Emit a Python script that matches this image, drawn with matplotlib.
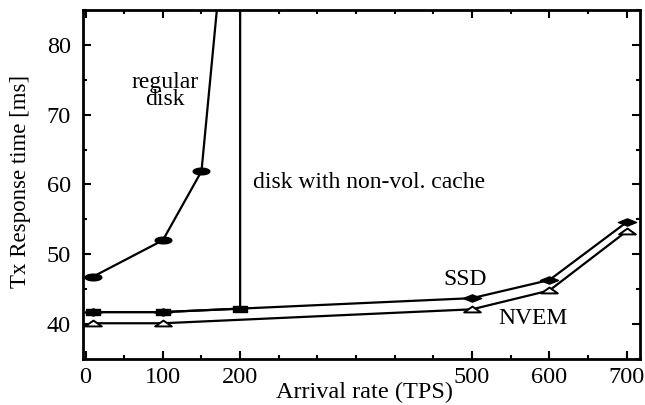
import numpy as np
import matplotlib.pyplot as plt
from matplotlib.path import Path
from matplotlib.ticker import MultipleLocator

plt.rcParams["font.family"] = ["Liberation Serif", "DejaVu Serif"]

# data
disk_x = [10, 100, 150, 175]
disk_y = [46.8, 52.0, 61.9, 91.0]

cache_x = [10, 100, 200, 200]
cache_y = [41.7, 41.7, 42.2, 100.0]

ssd_x = [10, 100, 500, 600, 700]
ssd_y = [41.7, 41.7, 43.7, 46.3, 54.6]

nvem_x = [10, 100, 500, 600, 700]
nvem_y = [40.1, 40.1, 42.1, 44.8, 53.3]

x_ticks = [0, 100, 200, 500, 600, 700]
y_ticks = [40, 50, 60, 70, 80]

# flattened marker shapes
t = np.linspace(0, 2 * np.pi, 40)
ellipse = Path(np.column_stack([np.cos(t), 0.4 * np.sin(t)]), closed=True)
flat_diamond = Path([(-1, 0), (0, 0.4), (1, 0), (0, -0.4), (-1, 0)], closed=True)
flat_box = Path([(-1, -0.4), (1, -0.4), (1, 0.4), (-1, 0.4), (-1, -0.4)], closed=True)
flat_tri = Path([(-1, -0.35), (1, -0.35), (0, 0.35), (-1, -0.35)], closed=True)

fig = plt.figure(figsize=(6.45, 4.05), dpi=100)
ax = fig.add_axes([0.129, 0.114, 0.863, 0.861])

lw = 1.6
ax.plot(disk_x, disk_y, color="black", lw=lw, marker=ellipse, ms=12, mfc="black")
ax.plot(cache_x, cache_y, color="black", lw=lw, marker=flat_box, ms=10, mfc="black")
ax.plot(ssd_x, ssd_y, color="black", lw=lw, marker=flat_diamond, ms=13, mfc="black")
ax.plot(nvem_x, nvem_y, color="black", lw=lw, marker=flat_tri, ms=12, mfc="white", mew=1.4)

ax.set_xlim(-3, 717)
ax.set_ylim(35, 85)
ax.set_xticks(x_ticks)
ax.set_yticks(y_ticks)
ax.xaxis.set_minor_locator(MultipleLocator(50))
ax.yaxis.set_minor_locator(MultipleLocator(5))
ax.tick_params(which="both", direction="in", top=True, right=True, width=1.5, labelsize=17.5)
ax.tick_params(which="major", length=6)
ax.tick_params(which="minor", length=3)
ax.tick_params(axis="y", which="major", pad=9)
ax.tick_params(axis="x", which="major", pad=6)
for s in ax.spines.values():
    s.set_linewidth(2)

ax.set_xlabel("Arrival rate (TPS)", fontsize=17.5, va="center")
ax.xaxis.set_label_coords(0.506, -0.097)
ax.set_ylabel("Tx Response time [ms]", fontsize=16.5, va="center")
ax.yaxis.set_label_coords(-0.113, 0.51)

ax.text(103, 73.4, "regular\ndisk", fontsize=17, ha="center", va="center", linespacing=0.8)
ax.text(216, 60.3, "disk with non-vol. cache", fontsize=17, ha="left", va="center")
ax.text(491, 46.4, "SSD", fontsize=17, ha="center", va="center")
ax.text(579, 40.8, "NVEM", fontsize=17, ha="center", va="center")

fig.savefig("out.png", dpi=100)
